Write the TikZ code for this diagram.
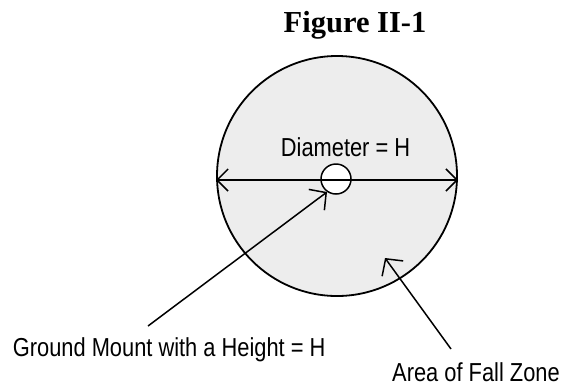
\documentclass[tikz,border=0pt]{standalone}
\usepackage{fontspec}
\setmainfont{Liberation Serif}
\newfontfamily\labfont{Liberation Sans}[FakeStretch=0.84]
\usetikzlibrary{arrows.meta}
\definecolor{zonefill}{RGB}{237,237,237}
\tikzset{
  lab/.style={inner sep=0pt, font=\labfont\fontsize{26bp}{30bp}\selectfont},
  ttl/.style={inner sep=0pt, font=\fontsize{30.5bp}{36bp}\selectfont\bfseries},
  conn/.style={line width=1.5bp, -{Straight Barb[length=12bp,width=26bp,line width=1.5bp]}},
  dim/.style={line width=1.5bp, {Straight Barb[length=11bp,width=22bp,line width=1.5bp]}-{Straight Barb[length=11bp,width=22bp,line width=1.5bp]}}
}
\begin{document}
\begin{tikzpicture}[x=1bp,y=-1bp]
\useasboundingbox (0,0) rectangle (565,386);
% fall zone
\node[circle, draw, line width=1.8bp, fill=zonefill, minimum size=240bp, inner sep=0pt] (zone) at (337,176) {};
% title
\node[ttl, anchor=base] (title) at (355,32.3) {Figure II-1};
% diameter label
\node[lab, anchor=base west] (diam) at (280.7,156) {Diameter = H};
% mount
\node[circle, draw, line width=1.5bp, fill=white, minimum size=30bp, inner sep=0pt] (mount) at (336,179) {};
% diameter line
\coordinate (dl) at (216,180);
\coordinate (dr) at (458,180);
\draw[dim] (dl) -- (dr);
% labels
\node[lab, anchor=base west] (ground) at (12.7,356) {Ground Mount with a Height = H};
\node[lab, anchor=base west] (area) at (392,381.7) {Area of Fall Zone};
% leaders
\coordinate (g1) at (148,326);
\coordinate (g2) at (327,192);
\draw[conn] (g1) -- (g2);
\coordinate (a1) at (451,349);
\coordinate (a2) at (385,258);
\draw[conn] (a1) -- (a2);
\end{tikzpicture}
\end{document}
